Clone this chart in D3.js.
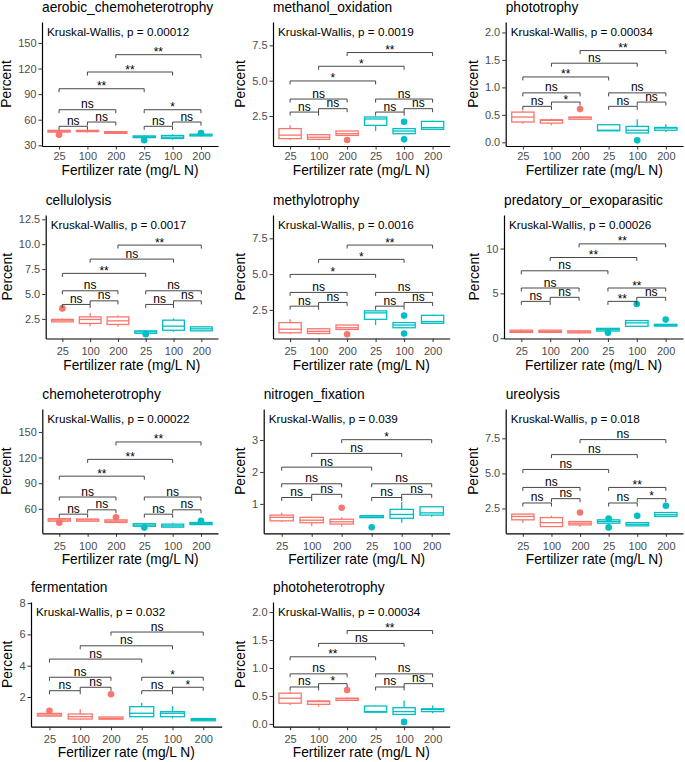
<!DOCTYPE html>
<html>
<head>
<meta charset="utf-8">
<script src="https://cdn.jsdelivr.net/npm/d3@7"></script>
<style>
  body { margin: 0; background: #fff; }
  text { font-family: "Liberation Sans", Arial, sans-serif; }
</style>
</head>
<body>
<svg id="chart" width="685" height="762"></svg>
<script>
// ---- data ----
const panelTitles = ['aerobic_chemoheterotrophy', 'methanol_oxidation', 'phototrophy',
  'cellulolysis', 'methylotrophy', 'predatory_or_exoparasitic',
  'chemoheterotrophy', 'nitrogen_fixation', 'ureolysis',
  'fermentation', 'photoheterotrophy'];
const kruskalP = ['0.00012', '0.0019', '0.00034', '0.0017', '0.0016', '0.00026',
  '0.00022', '0.039', '0.018', '0.032', '0.00034'];
const rateLabels = ['25', '100', '200', '25', '100', '200'];
const groupOfBox = [0, 0, 0, 1, 1, 1];

// [whisker low, q1, median, q3, whisker high] for the six boxes of each panel
const boxStats = [
  [[44.5, 45.5, 46.5, 47.5, 48.5], [45, 46, 46.5, 47.5, 48], [43.5, 44, 45, 46, 46.5],
   [38, 39, 40, 41, 42], [36.5, 38, 39.5, 41.5, 43], [40.5, 41, 42, 43, 43.5]],
  [[0.83, 0.9, 1.15, 1.61, 1.84], [0.78, 0.85, 1.0, 1.18, 1.2], [1.13, 1.13, 1.25, 1.44, 1.44],
   [1.44, 1.84, 2.29, 2.43, 2.48], [1.25, 1.25, 1.44, 1.61, 1.61], [1.56, 1.56, 1.68, 2.12, 2.17]],
  [[0.34, 0.37, 0.46, 0.55, 0.58], [0.31, 0.35, 0.4, 0.41, 0.43], [0.42, 0.42, 0.45, 0.46, 0.47],
   [0.21, 0.21, 0.22, 0.32, 0.33], [0.17, 0.17, 0.22, 0.29, 0.42], [0.19, 0.22, 0.26, 0.27, 0.33]],
  [[2.2, 2.2, 2.37, 2.45, 2.54], [1.77, 2.04, 2.44, 2.7, 3.1], [1.7, 1.94, 2.3, 2.7, 2.87],
   [1.03, 1.05, 1.2, 1.3, 1.36], [1.2, 1.36, 1.77, 2.37, 2.54], [1.25, 1.3, 1.5, 1.7, 1.77]],
  [[0.83, 0.9, 1.15, 1.61, 1.84], [0.78, 0.85, 1.0, 1.18, 1.2], [1.13, 1.13, 1.25, 1.44, 1.44],
   [1.44, 1.84, 2.29, 2.43, 2.48], [1.25, 1.25, 1.44, 1.61, 1.61], [1.56, 1.56, 1.68, 2.12, 2.17]],
  [[0.6, 0.65, 0.75, 0.9, 0.97], [0.6, 0.65, 0.75, 0.9, 0.95], [0.52, 0.6, 0.7, 0.82, 0.89],
   [0.78, 0.8, 0.95, 1.1, 1.15], [1.33, 1.33, 1.71, 1.97, 1.97], [1.33, 1.35, 1.45, 1.55, 1.6]],
  [[45, 45.5, 47, 48.5, 49], [45, 45.5, 47, 48, 48.2], [43.8, 44, 45.5, 47, 47.8],
   [39, 39.5, 41, 42.5, 43], [37.9, 38.5, 40, 42, 43.8], [41, 41.5, 43, 44, 45]],
  [[0.44, 0.47, 0.58, 0.65, 0.72], [0.31, 0.41, 0.49, 0.58, 0.6], [0.29, 0.37, 0.44, 0.52, 0.58],
   [0.55, 0.57, 0.62, 0.63, 0.65], [0.41, 0.55, 0.67, 0.83, 1.06], [0.6, 0.65, 0.72, 0.91, 0.93]],
  [[1.49, 1.69, 1.93, 2.1, 2.12], [1.21, 1.21, 1.49, 1.85, 1.98], [1.2, 1.33, 1.45, 1.57, 1.57],
   [1.45, 1.45, 1.57, 1.69, 1.69], [1.26, 1.26, 1.37, 1.49, 1.49], [1.93, 1.93, 2.05, 2.21, 2.21]],
  [[0.74, 0.78, 0.85, 0.95, 0.98], [0.55, 0.59, 0.74, 0.91, 1.21], [0.57, 0.58, 0.63, 0.72, 0.74],
   [0.74, 0.74, 0.96, 1.38, 1.63], [0.63, 0.74, 0.96, 1.06, 1.42], [0.46, 0.48, 0.55, 0.62, 0.63]],
  [[0.34, 0.37, 0.46, 0.55, 0.58], [0.31, 0.35, 0.4, 0.41, 0.43], [0.42, 0.42, 0.45, 0.46, 0.47],
   [0.21, 0.21, 0.22, 0.32, 0.33], [0.17, 0.17, 0.22, 0.29, 0.42], [0.19, 0.22, 0.26, 0.27, 0.33]]
];
const outlierValues = [
  [[42.5], [], [], [36], [], [44.5]],
  [[], [], [0.8], [], [2.1, 0.85], []],
  [[], [], [0.605], [], [0.036], []],
  [[3.55], [], [], [0.95], [], []],
  [[], [], [0.8], [], [2.1, 0.85], []],
  [[], [], [], [0.6], [3.82], [2.08]],
  [[43.8], [], [50], [38], [], [45.8]],
  [[], [], [0.88], [0.27], [], []],
  [[], [], [2.21], [1.78, 1.15], [1.98], [2.69]],
  [[1.12], [], [2.17], [], [], []],
  [[], [], [0.605], [], [0.036], []]
];

// pairwise comparisons (box index pairs), same for every panel
const bracketPairs = [[0, 1], [1, 2], [0, 2], [3, 4], [4, 5], [3, 5], [0, 3], [1, 4], [2, 5]];
const bracketY = [
  [52.3, 57.3, 71.7, 52.3, 57.3, 71.7, 96.3, 115.9, 136.2],
  [2.78, 3.02, 3.7, 2.78, 3.02, 3.7, 4.98, 6.02, 6.99],
  [0.655, 0.733, 0.9, 0.655, 0.733, 0.9, 1.19, 1.44, 1.67],
  [3.95, 4.31, 5.32, 3.95, 4.31, 5.32, 7.07, 8.5, 9.91],
  [2.76, 3.02, 3.72, 2.76, 3.02, 3.72, 4.98, 6.03, 7.03],
  [4.11, 4.56, 5.6, 4.11, 4.56, 5.6, 7.52, 9.0, 10.52],
  [53.7, 58.8, 73.8, 53.7, 58.8, 73.8, 98.2, 117.9, 138.3],
  [1.2, 1.3, 1.63, 1.2, 1.3, 1.63, 2.15, 2.58, 3.01],
  [2.89, 3.2, 4.0, 2.89, 3.2, 4.0, 5.28, 6.34, 7.41],
  [2.4, 2.62, 3.26, 2.4, 2.62, 3.26, 4.42, 5.27, 6.15],
  [0.66, 0.72, 0.895, 0.66, 0.72, 0.895, 1.2, 1.44, 1.67]
];
const bracketLabels = [
  ['ns', 'ns', 'ns', 'ns', 'ns', '*', '**', '**', '**'],
  ['ns', 'ns', 'ns', 'ns', 'ns', 'ns', '*', '*', '**'],
  ['ns', '*', 'ns', 'ns', 'ns', 'ns', '**', 'ns', '**'],
  ['ns', 'ns', 'ns', 'ns', 'ns', 'ns', '**', 'ns', '**'],
  ['ns', 'ns', 'ns', 'ns', 'ns', 'ns', '*', '*', '**'],
  ['ns', 'ns', 'ns', '**', 'ns', '**', 'ns', '**', '**'],
  ['ns', 'ns', 'ns', 'ns', 'ns', 'ns', '**', '**', '**'],
  ['ns', 'ns', 'ns', 'ns', 'ns', 'ns', 'ns', 'ns', '*'],
  ['ns', 'ns', 'ns', 'ns', '*', '**', 'ns', 'ns', 'ns'],
  ['ns', 'ns', 'ns', 'ns', '*', '*', 'ns', 'ns', 'ns'],
  ['ns', '*', 'ns', 'ns', 'ns', 'ns', '**', 'ns', '**']
];

const yDomains = [[29.2, 174.5], [0.38, 9.15], [-0.067, 2.19], [0.53, 12.93], [0.5, 9.13],
  [-0.03, 13.74], [31.3, 176.9], [0.08, 3.97], [0.73, 9.59], [0.1, 8.07], [-0.05, 2.18]];
const yTicks = [[30, 60, 90, 120, 150], [2.5, 5, 7.5], [0, 0.5, 1, 1.5, 2], [2.5, 5, 7.5, 10, 12.5],
  [2.5, 5, 7.5], [0, 5, 10], [30, 60, 90, 120, 150], [1, 2, 3], [2.5, 5, 7.5], [2, 4, 6, 8],
  [0, 0.5, 1, 1.5, 2]];
const yFormats = ['d', '.1f', '.1f', '.1f', '.1f', 'd', 'd', 'd', '.1f', 'd', '.1f'];

// ---- layout ----
const colors = ['#F8766D', '#00BFC4'];
const plotLeft = [42, 273, 505.7, 45.7, 273, 504, 42.3, 263.7, 505.7, 31, 273];
const plotRight = [218, 449.7, 683, 218, 449.7, 683, 218, 449.7, 683, 221.7, 449.7];
const rowTop = [22, 215, 409, 602];
const rowBottom = [146, 338.5, 533.3, 726.7];
const xTickOffset = [14, 16.5, 16.5, 16.5];
const xTitleOffset = [28.5, 31, 31, 30.5];

const svg = d3.select('#chart');

panelTitles.forEach((title, i) => {
  const row = Math.floor(i / 3);
  const top = rowTop[row];
  const bottom = rowBottom[row];
  const left = plotLeft[i];
  const right = plotRight[i];

  const x = d3.scalePoint().domain(d3.range(6)).range([left, right]).padding(0.6);
  const y = d3.scaleLinear().domain(yDomains[i]).range([bottom, top]);
  const g = svg.append('g');

  // panel title
  g.append('text')
    .attr('x', left)
    .attr('y', top - 10.5)
    .style('font-size', '13.75px')
    .text(title);

  // boxplots
  const bw = x.step() * 0.78;
  boxStats[i].forEach((s, j) => {
    const cx = x(j);
    const col = colors[groupOfBox[j]];
    const b = g.append('g').attr('stroke', col).attr('stroke-width', 1.3);
    b.append('line').attr('x1', cx).attr('x2', cx).attr('y1', y(s[0])).attr('y2', y(s[1]));
    b.append('line').attr('x1', cx).attr('x2', cx).attr('y1', y(s[3])).attr('y2', y(s[4]));
    b.append('rect')
      .attr('x', cx - bw / 2)
      .attr('y', y(s[3]))
      .attr('width', bw)
      .attr('height', Math.max(0.5, y(s[1]) - y(s[3])))
      .attr('fill', '#fff');
    b.append('line').attr('x1', cx - bw / 2).attr('x2', cx + bw / 2).attr('y1', y(s[2])).attr('y2', y(s[2]));
    outlierValues[i][j].forEach(v => {
      g.append('circle').attr('cx', cx).attr('cy', y(v)).attr('r', 3.3).attr('fill', col);
    });
  });

  // significance brackets
  bracketPairs.forEach(([a, b], k) => {
    const yb = y(bracketY[i][k]);
    const x1 = x(a), x2 = x(b);
    g.append('path')
      .attr('d', `M${x1},${yb + 3.5}L${x1},${yb}L${x2},${yb}L${x2},${yb + 3.5}`)
      .attr('fill', 'none')
      .attr('stroke', '#333')
      .attr('stroke-width', 0.9);
    const lab = bracketLabels[i][k];
    g.append('text')
      .attr('x', (x1 + x2) / 2)
      .attr('y', lab === 'ns' ? yb - 1.5 : yb + 1.5)
      .attr('text-anchor', 'middle')
      .style('font-size', '12px')
      .text(lab);
  });

  // Kruskal-Wallis label
  g.append('text')
    .attr('x', left + 5)
    .attr('y', top + 14)
    .style('font-size', '11.7px')
    .text(`Kruskal-Wallis, p = ${kruskalP[i]}`);

  // axes
  const [d0, d1] = yDomains[i];
  const yAxis = d3.axisLeft(y)
    .tickValues(yTicks[i].filter(t => t >= d0 && t <= d1))
    .tickFormat(d3.format(yFormats[i]))
    .tickSize(3.5)
    .tickSizeOuter(0)
    .tickPadding(2);
  const yg = g.append('g').attr('transform', `translate(${left},0)`).call(yAxis);

  const xAxis = d3.axisBottom(x)
    .tickFormat(j => rateLabels[j])
    .tickSize(3.5)
    .tickSizeOuter(0)
    .tickPadding(2);
  const xg = g.append('g').attr('transform', `translate(0,${bottom})`).call(xAxis);

  [yg, xg].forEach(ax => {
    ax.attr('font-family', null).attr('font-size', null);
    ax.select('.domain').attr('stroke', '#000').attr('stroke-width', 1.2);
    ax.selectAll('.tick line').attr('stroke', '#333').attr('stroke-width', 1);
    ax.selectAll('.tick text').attr('fill', '#4D4D4D').style('font-size', '11px');
  });
  xg.selectAll('.tick text').attr('dy', null).attr('y', xTickOffset[row]);

  // axis titles
  const labW = yg.node().getBBox().width;
  g.append('text')
    .attr('transform', `translate(${left - labW - 6.5},${(top + bottom) / 2}) rotate(-90)`)
    .attr('text-anchor', 'middle')
    .style('font-size', '13.75px')
    .text('Percent');

  g.append('text')
    .attr('x', (left + right) / 2)
    .attr('y', bottom + xTitleOffset[row])
    .attr('text-anchor', 'middle')
    .style('font-size', '13.75px')
    .text('Fertilizer rate (mg/L N)');
});
</script>
</body>
</html>
